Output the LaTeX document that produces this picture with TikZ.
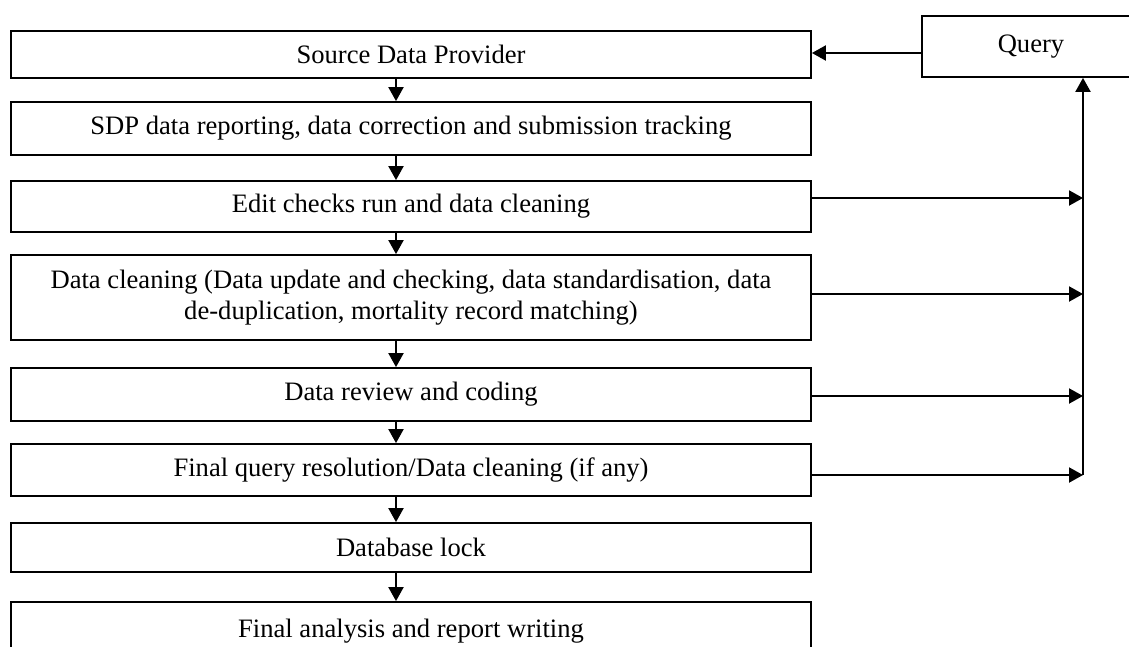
\documentclass[tikz,border=0pt]{standalone}
\usepackage{fontspec}
\setmainfont{Liberation Serif}
\usetikzlibrary{arrows.meta}

\begin{document}
\begin{tikzpicture}[x=0.5pt,y=-0.5pt,
    stage/.style={rectangle, draw, line width=0.9pt, minimum width=400pt, inner sep=0pt, align=center, font=\fontsize{13.3}{15.8}\selectfont},
    flow/.style={-{Triangle[length=7pt,width=7.5pt]}, line width=1pt}]
  \useasboundingbox (0,0) rectangle (1129,647);

  % Nodes
  \node (src) at (411,54.5) [stage, minimum height=23.5pt] {Source Data Provider};
  \node (sdp) at (411,128.5) [stage, minimum height=26.5pt] {SDP data reporting, data correction and submission tracking};
  \node (edit) at (411,206.5) [stage, minimum height=25.5pt] {Edit checks run and data cleaning};
  \node (clean) at (411,297.5) [stage, minimum height=42.5pt] {Data cleaning (Data update and checking, data standardisation, data\\de-duplication, mortality record matching)};
  \node (review) at (411,394.5) [stage, minimum height=26.5pt] {Data review and coding};
  \node (resolve) at (411,470) [stage, minimum height=26pt] {Final query resolution/Data cleaning (if any)};
  \node (lock) at (411,547.5) [stage, minimum height=24.5pt] {Database lock};
  \node (report) at (411,631) [stage, minimum height=29pt] {Final analysis and report writing};

  \node (query) at (1031,46.5) [stage, minimum width=109pt, minimum height=30.5pt] {Query};

  \coordinate (col) at (396,0);
  \coordinate (q3) at (1083,198);
  \coordinate (q4) at (1083,294);
  \coordinate (q5) at (1083,396);
  \coordinate (q6) at (1083,475);

  % Edges
  \draw[flow] (src.south -| col) -- (sdp.north -| col);
  \draw[flow] (sdp.south -| col) -- (edit.north -| col);
  \draw[flow] (edit.south -| col) -- (clean.north -| col);
  \draw[flow] (clean.south -| col) -- (review.north -| col);
  \draw[flow] (review.south -| col) -- (resolve.north -| col);
  \draw[flow] (resolve.south -| col) -- (lock.north -| col);
  \draw[flow] (lock.south -| col) -- (report.north -| col);

  \draw[flow] (edit.east |- q3) -- (q3);
  \draw[flow] (clean.east |- q4) -- (q4);
  \draw[flow] (review.east |- q5) -- (q5);
  \draw[flow] (resolve.east |- q6) -- (q6);
  \draw[flow] (q6) -- (query.south -| q6);
  \draw[flow] (query.west |- 0,53) -- (src.east |- 0,53);
\end{tikzpicture}
\end{document}
